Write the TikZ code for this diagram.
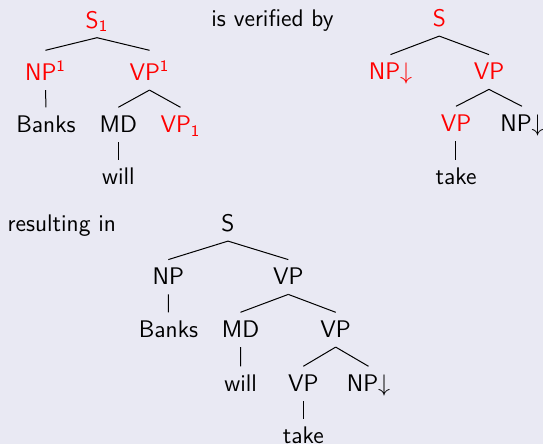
\documentclass[tikz,border=0pt]{standalone}
\usepackage{fontspec}
\definecolor{bgc}{RGB}{233,233,243}
\definecolor{hl}{RGB}{255,0,0}
\begin{document}
\begin{tikzpicture}[x=0.5pt,y=-0.5pt,
  lbl/.style={anchor=base,inner sep=0pt,text height=12.5pt,text depth=4.5pt,font=\fontsize{12}{14}\selectfont\sffamily},
  suplbl/.style={lbl,text height=15pt},
  red/.style={text=hl},
  br/.style={draw=black,line width=0.5pt}]
\fill[bgc] (0,0) rectangle (543,444);
\useasboundingbox (0,0) rectangle (543,444);
% tree 1
\node[lbl,red] (a0) at (97,28.3) {S\textsubscript{1}};
\node[suplbl,red] (a1) at (45.5,80.7) {NP\textsuperscript{1}};
\node[suplbl,red] (a2) at (149.5,80.7) {VP\textsuperscript{1}};
\node[lbl] (a3) at (46,132.7) {Banks};
\node[lbl] (a4) at (118.3,132.7) {MD};
\node[lbl,red] (a5) at (180.5,132.7) {VP\textsubscript{1}};
\node[lbl] (a6) at (118.3,185) {will};
\draw[br] (a0.south) -- (a1.north);
\draw[br] (a0.south) -- (a2.north);
\draw[br] (a1.south) -- (a3.north);
\draw[br] (a2.south) -- (a4.north);
\draw[br] (a2.south) -- (a5.north);
\draw[br] (a4.south) -- (a6.north);
% label
\node[lbl] (t1) at (272.5,27) {is verified by};
% tree 2
\node[lbl,red] (b0) at (439.3,26.7) {S};
\node[lbl,red] (b1) at (390.5,80) {NP$\downarrow$};
\node[lbl,red] (b2) at (489,80) {VP};
\node[lbl,red] (b3) at (456,131.7) {VP};
\node[lbl] (b4) at (522,131.7) {NP$\downarrow$};
\node[lbl] (b5) at (456,185) {take};
\draw[br] (b0.south) -- (b1.north);
\draw[br] (b0.south) -- (b2.north);
\draw[br] (b2.south) -- (b3.north);
\draw[br] (b2.south) -- (b4.north);
\draw[br] (b3.south) -- (b5.north);
% label
\node[lbl,anchor=base west] (t2) at (7.3,231.7) {resulting in};
% tree 3
\node[lbl] (c0) at (228,231.7) {S};
\node[lbl] (c1) at (168.3,285) {NP};
\node[lbl] (c2) at (288.3,285) {VP};
\node[lbl] (c3) at (168.5,337.7) {Banks};
\node[lbl] (c4) at (240.5,337.7) {MD};
\node[lbl] (c5) at (335.7,337.7) {VP};
\node[lbl] (c6) at (240.7,391.7) {will};
\node[lbl] (c7) at (303.3,391.7) {VP};
\node[lbl] (c8) at (368.5,391.7) {NP$\downarrow$};
\node[lbl] (c9) at (303.3,444) {take};
\draw[br] (c0.south) -- (c1.north);
\draw[br] (c0.south) -- (c2.north);
\draw[br] (c1.south) -- (c3.north);
\draw[br] (c2.south) -- (c4.north);
\draw[br] (c2.south) -- (c5.north);
\draw[br] (c4.south) -- (c6.north);
\draw[br] (c5.south) -- (c7.north);
\draw[br] (c5.south) -- (c8.north);
\draw[br] (c7.south) -- (c9.north);
\end{tikzpicture}
\end{document}
